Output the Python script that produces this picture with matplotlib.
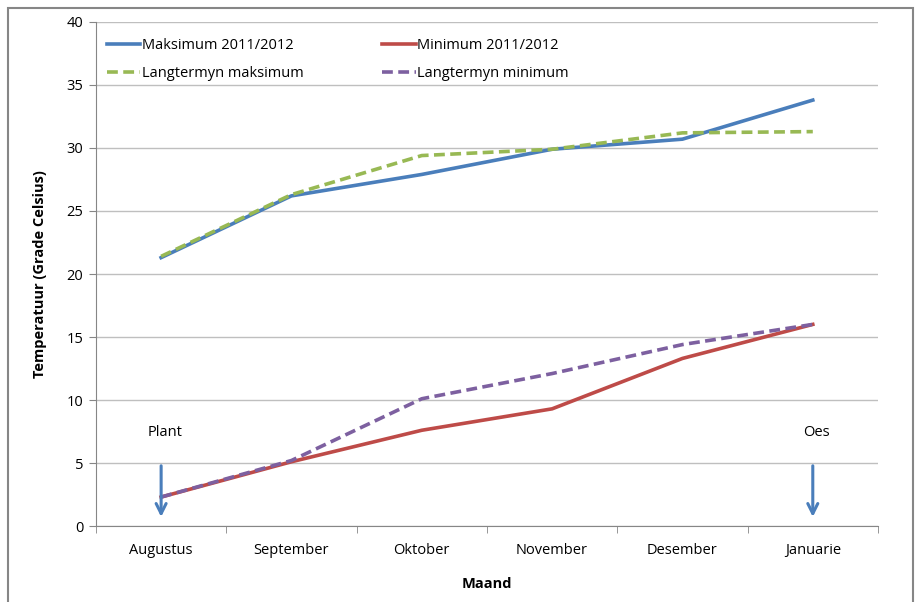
import numpy as np
import matplotlib.pyplot as plt
from matplotlib.patches import Rectangle

## data

maande       = ['Augustus', 'September', 'Oktober', 'November', 'Desember', 'Januarie']
maks_2011    = [21.3, 26.2, 27.9, 29.9, 30.7, 33.8]
min_2011     = [2.3, 5.1, 7.6, 9.3, 13.3, 16.0]
lang_maks    = [21.4, 26.3, 29.4, 29.9, 31.2, 31.3]
lang_min     = [2.3, 5.2, 10.1, 12.1, 14.4, 16.0]
y_ticks      = [0, 5, 10, 15, 20, 25, 30, 35, 40]

plt.rcParams['font.family'] = ['Open Sans', 'DejaVu Sans']

## plotting

fig = plt.figure(figsize=(9.2, 6.02), dpi=100)
ax = fig.add_axes([0.1043, 0.1262, 0.85, 0.8373])

x = np.arange(len(maande))
l1, = ax.plot(x, maks_2011, color='#4A7EBB', lw=2.6, label='Maksimum 2011/2012', zorder=4)
l2, = ax.plot(x, min_2011, color='#BE4B48', lw=2.6, label='Minimum 2011/2012', zorder=4)
l3, = ax.plot(x, lang_maks, color='#98B954', lw=2.6, ls=(0, (3, 1.5)), label='Langtermyn maksimum', zorder=5)
l4, = ax.plot(x, lang_min, color='#7D60A0', lw=2.6, ls=(0, (3, 1.5)), label='Langtermyn minimum', zorder=5)

# arrows for plant / oes
for xi, txt in [(0, 'Plant'), (5, 'Oes')]:
    ax.annotate('', xy=(xi, 0.5), xytext=(xi, 5),
                arrowprops=dict(arrowstyle='->', color='#4A7EBB', lw=2.2,
                                mutation_scale=18), zorder=6)
    ax.text(xi + 0.03, 7.4, txt, ha='center', va='center', fontsize=10.5)

ax.set_xlim(-0.5, len(maande) - 0.5)
ax.set_ylim(0, 40)
ax.set_yticks(y_ticks)
ax.set_xticks(x)
ax.set_xticklabels(maande)
ax.set_xticks(np.arange(-0.5, len(maande)), minor=True)
ax.tick_params(axis='x', which='major', length=0, pad=12, labelsize=10.5)
ax.tick_params(axis='x', which='minor', length=5, color='#868686')
ax.tick_params(axis='y', length=5, color='#868686', labelsize=10.5, pad=4)

ax.grid(axis='y', color='#BFBFBF', lw=1)
ax.set_axisbelow(True)
for s in ['top', 'right']:
    ax.spines[s].set_visible(False)
for s in ['left', 'bottom']:
    ax.spines[s].set_color('#868686')

ax.set_xlabel('Maand', fontsize=10.5, fontweight='bold', labelpad=14)
ax.set_ylabel('Temperatuur (Grade Celsius)', fontsize=10.5, fontweight='bold', labelpad=14)

# legend fills column-wise: order so rows read maks/min, lang maks/lang min
ax.legend([l1, l3, l2, l4], [l.get_label() for l in [l1, l3, l2, l4]],
          loc='upper left', bbox_to_anchor=(-0.007, 1.0), ncol=2, frameon=False,
          fontsize=10.5, handlelength=2.3, handletextpad=0.1, columnspacing=5.4,
          labelspacing=0.9, borderaxespad=0.7)

# outer chart frame
fig.patches.append(Rectangle((8 / 920, -0.05), 905 / 920, 1.05 - 8 / 602,
                             transform=fig.transFigure, fill=False,
                             edgecolor='#868686', lw=1.5))

fig.savefig('out.png', dpi=100)
